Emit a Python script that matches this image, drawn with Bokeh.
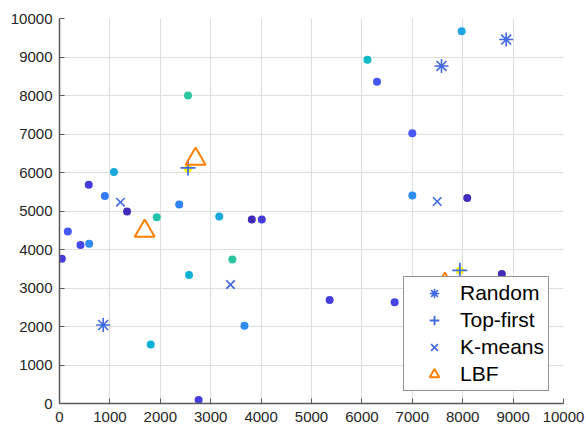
import numpy as np
from bokeh.plotting import figure
from bokeh.models import (ColumnDataSource, LinearColorMapper, FixedTicker,
                          Legend, LegendItem)
from bokeh.embed import file_html
from bokeh.resources import INLINE

# ---------------- data ----------------
pts_x = [2550, 2550, 1080, 580, 900, 1340, 2375, 1930, 3170, 3816, 4014, 7980,
         6110, 6300, 7000, 7000, 8090, 165, 417, 589, 46, 3430, 2570, 3670,
         1810, 2760, 5360, 6650, 7943, 8776]
pts_y = [8000, 6100, 6010, 5680, 5390, 4990, 5170, 4840, 4860, 4780, 4780, 9670,
         8930, 8360, 7020, 5400, 5340, 4470, 4120, 4150, 3760, 3740, 3340, 2020,
         1535, 90, 2690, 2630, 3455, 3366]
pts_val = [0.55, 1.0, 0.40, 0.08, 0.25, 0.03, 0.28, 0.53, 0.40, 0.02, 0.08, 0.38,
           0.47, 0.16, 0.16, 0.31, 0.03, 0.16, 0.11, 0.30, 0.08, 0.55, 0.43, 0.30,
           0.43, 0.08, 0.08, 0.10, 1.0, 0.03]

random_x = [867, 7579, 8863]
random_y = [2039, 8767, 9453]
topfirst_x = [2550, 7943]
topfirst_y = [6120, 3460]
kmeans_x = [1210, 7494, 3393]
kmeans_y = [5229, 5247, 3088]
lbf_x = [2700, 1690, 7645]
lbf_y = [6350, 4480, 3100]

x_ticks = list(range(0, 10001, 1000))
y_ticks = list(range(0, 10001, 1000))

# ---------------- parula palette ----------------
_anchor_idx = [0, 4, 8, 12, 16, 20, 24, 28, 32, 36, 40, 44, 48, 52, 56, 60, 63]
_anchor_rgb = [
    (0.2422, 0.1504, 0.6603), (0.2706, 0.2147, 0.8364), (0.2813, 0.3006, 0.9414),
    (0.2699, 0.3892, 0.9906), (0.1963, 0.4847, 0.9892), (0.1687, 0.5703, 0.9359),
    (0.1248, 0.6459, 0.8883), (0.0297, 0.7082, 0.8163), (0.0964, 0.7500, 0.7120),
    (0.2161, 0.7843, 0.5923), (0.3909, 0.8029, 0.4354), (0.6174, 0.7876, 0.2612),
    (0.8203, 0.7498, 0.1535), (0.9728, 0.7298, 0.2394), (0.9892, 0.8136, 0.1885),
    (0.9628, 0.9373, 0.1265), (0.9769, 0.9839, 0.0805)]
_t = np.linspace(0, 63, 256)
_arr = np.array(_anchor_rgb)
parula = []
for tt in _t:
    r, g, b = (np.interp(tt, _anchor_idx, _arr[:, k]) for k in range(3))
    parula.append("#%02x%02x%02x" % (int(round(r * 255)), int(round(g * 255)), int(round(b * 255))))

mapper = LinearColorMapper(palette=parula, low=0, high=1)

# ---------------- figure ----------------
p = figure(width=586, height=427, output_backend="svg", toolbar_location=None,
           x_range=(0, 10000), y_range=(0, 10000),
           min_border_left=59, min_border_right=23, min_border_top=18,
           min_border_bottom=24)
p.outline_line_color = None
p.background_fill_color = "white"
p.border_fill_color = "white"

for ax, ticks in ((p.xaxis[0], x_ticks), (p.yaxis[0], y_ticks)):
    ax.ticker = FixedTicker(ticks=ticks)
    ax.major_label_overrides = {t: str(t) for t in ticks}
    ax.major_tick_in = 5
    ax.major_tick_out = 0
    ax.minor_tick_line_color = None
    ax.axis_line_color = "#5a5a5a"
    ax.axis_line_width = 1.5
    ax.major_tick_line_color = "#5a5a5a"
    ax.major_label_text_font = "Liberation Sans"
    ax.major_label_text_font_size = "15px"
    ax.major_label_text_color = "#262626"
p.yaxis[0].major_label_standoff = 7
p.xaxis[0].major_label_standoff = 8

for g in (p.xgrid[0], p.ygrid[0]):
    g.ticker = FixedTicker(ticks=x_ticks)
    g.grid_line_color = "#dedede"
    g.grid_line_width = 1

src = ColumnDataSource(dict(x=pts_x, y=pts_y, v=pts_val))
p.scatter("x", "y", source=src, size=8, marker="circle",
          fill_color={"field": "v", "transform": mapper}, line_color=None)

blue = "#4169E1"
r_rand = p.scatter(random_x, random_y, marker="asterisk", size=14,
                   line_color=blue, line_width=1.6)
r_top = p.scatter(topfirst_x, topfirst_y, marker="cross", size=15,
                  line_color=blue, line_width=1.8)
r_km = p.scatter(kmeans_x, kmeans_y, marker="x", size=12,
                 line_color=blue, line_width=1.6)
r_lbf = p.scatter(lbf_x, lbf_y, marker="triangle", size=20,
                  fill_color=None, line_color="#FF8000", line_width=2)

legend = Legend(items=[LegendItem(label="Random", renderers=[r_rand]),
                       LegendItem(label="Top-first", renderers=[r_top]),
                       LegendItem(label="K-means", renderers=[r_km]),
                       LegendItem(label="LBF", renderers=[r_lbf])],
                location=(344, 12))
legend.margin = 0
legend.padding = 4
legend.spacing = 3
legend.glyph_width = 52
legend.glyph_height = 24
legend.label_height = 24
legend.label_standoff = 0
legend.label_text_font = "Liberation Sans"
legend.label_text_font_size = "21px"
legend.label_text_color = "black"
legend.border_line_color = "#262626"
legend.border_line_width = 1
legend.background_fill_color = "white"
legend.background_fill_alpha = 1.0
p.add_layout(legend)

open("out.html", "w").write(file_html(p, INLINE))
